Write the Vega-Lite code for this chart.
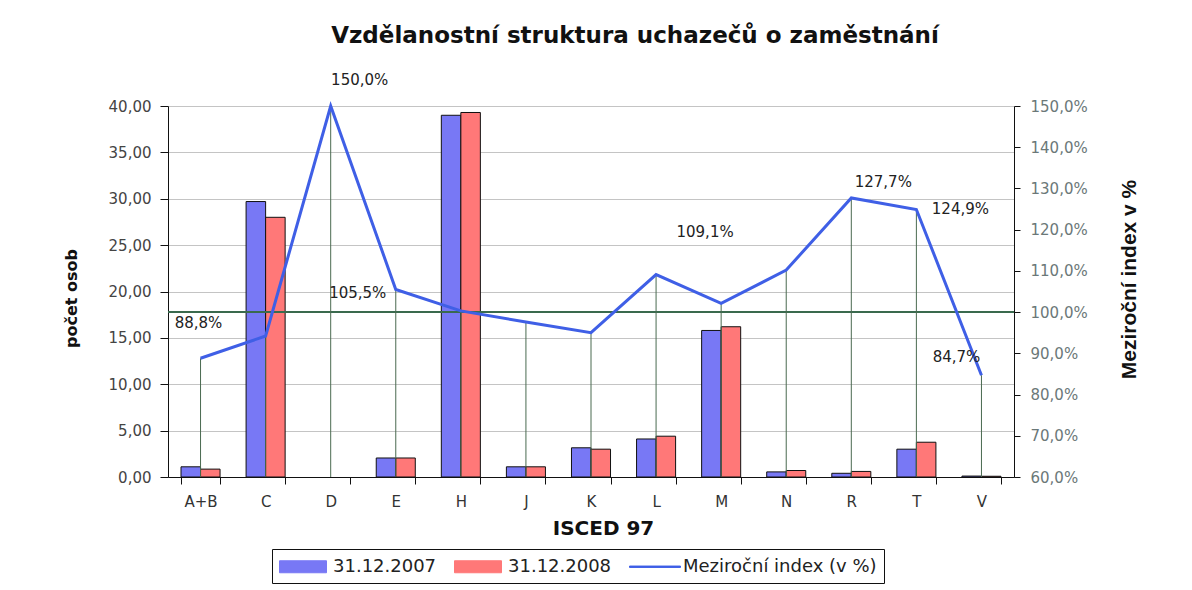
{
  "$schema": "https://vega.github.io/schema/vega-lite/v6.json",
  "width": 846,
  "height": 371,
  "autosize": {"type": "none"},
  "padding": {"left": 168, "top": 106, "right": 178, "bottom": 113},
  "background": "white",
  "title": {
    "text": "Vzdělanostní struktura uchazečů o zaměstnání",
    "font": "DejaVu Sans",
    "fontSize": 23,
    "fontWeight": "bold",
    "color": "#111111",
    "anchor": "middle",
    "frame": "group",
    "dx": 44,
    "offset": 25
  },
  "datasets": {
    "bars": [
      {"cat": "A+B", "series": "31.12.2007", "value": 1.1},
      {"cat": "A+B", "series": "31.12.2008", "value": 0.85},
      {"cat": "C", "series": "31.12.2007", "value": 29.7},
      {"cat": "C", "series": "31.12.2008", "value": 28.0},
      {"cat": "E", "series": "31.12.2007", "value": 2.05},
      {"cat": "E", "series": "31.12.2008", "value": 2.05},
      {"cat": "H", "series": "31.12.2007", "value": 39.0},
      {"cat": "H", "series": "31.12.2008", "value": 39.3},
      {"cat": "J", "series": "31.12.2007", "value": 1.1},
      {"cat": "J", "series": "31.12.2008", "value": 1.1},
      {"cat": "K", "series": "31.12.2007", "value": 3.15},
      {"cat": "K", "series": "31.12.2008", "value": 3.0},
      {"cat": "L", "series": "31.12.2007", "value": 4.1},
      {"cat": "L", "series": "31.12.2008", "value": 4.4},
      {"cat": "M", "series": "31.12.2007", "value": 15.8},
      {"cat": "M", "series": "31.12.2008", "value": 16.2},
      {"cat": "N", "series": "31.12.2007", "value": 0.55},
      {"cat": "N", "series": "31.12.2008", "value": 0.7},
      {"cat": "R", "series": "31.12.2007", "value": 0.4},
      {"cat": "R", "series": "31.12.2008", "value": 0.6},
      {"cat": "T", "series": "31.12.2007", "value": 3.0},
      {"cat": "T", "series": "31.12.2008", "value": 3.75},
      {"cat": "V", "series": "31.12.2007", "value": 0.1},
      {"cat": "V", "series": "31.12.2008", "value": 0.08}
    ],
    "idx": [
      {"cat": "A+B", "index": 0.888},
      {"cat": "C", "index": 0.942},
      {"cat": "D", "index": 1.5},
      {"cat": "E", "index": 1.055},
      {"cat": "H", "index": 1.003},
      {"cat": "J", "index": 0.976},
      {"cat": "K", "index": 0.95},
      {"cat": "L", "index": 1.091},
      {"cat": "M", "index": 1.021},
      {"cat": "N", "index": 1.102},
      {"cat": "R", "index": 1.277},
      {"cat": "T", "index": 1.249},
      {"cat": "V", "index": 0.847}
    ],
    "ref": [{"index": 1.0}]
  },
  "layer": [
    {
      "data": {"name": "bars"},
      "mark": {"type": "bar", "stroke": "#111111", "strokeWidth": 1},
      "encoding": {
        "x": {
          "field": "cat", "type": "nominal",
          "sort": ["A+B", "C", "D", "E", "H", "J", "K", "L", "M", "N", "R", "T", "V"],
          "scale": {"domain": ["A+B", "C", "D", "E", "H", "J", "K", "L", "M", "N", "R", "T", "V"], "paddingInner": 0.4, "paddingOuter": 0.2},
          "axis": {"title": "ISCED 97", "titleFont": "DejaVu Sans", "titleFontSize": 20, "titleFontWeight": "bold", "titleColor": "#111111", "labelFont": "DejaVu Sans", "labelFontSize": 15, "labelColor": "#333333", "labelAngle": 0, "labelPadding": 10, "tickBand": "extent", "tickSize": 7, "tickColor": "#111111", "domainColor": "#111111", "titlePadding": 9, "titleX": 435, "grid": false}
        },
        "xOffset": {"field": "series", "type": "nominal", "sort": ["31.12.2007", "31.12.2008"], "scale": {"paddingInner": 0, "paddingOuter": 0}},
        "y": {
          "field": "value", "type": "quantitative",
          "scale": {"domain": [0, 40], "nice": false, "zero": true},
          "axis": {"orient": "left", "title": "počet osob", "titleFont": "DejaVu Sans", "titleFontSize": 16, "titleFontWeight": "bold", "titleColor": "#111111", "titlePadding": 29, "titleY": 192, "values": [0, 5, 10, 15, 20, 25, 30, 35, 40], "format": ".2f", "labelFont": "DejaVu Sans", "labelFontSize": 15, "labelColor": "#444444", "labelPadding": 9, "tickSize": 8, "tickColor": "#111111", "domainColor": "#111111", "grid": true, "gridColor": "#c4c4c4", "gridWidth": 1}
        },
        "color": {
          "field": "series", "type": "nominal",
          "scale": {"domain": ["31.12.2007", "31.12.2008", "Meziroční index (v %)"], "range": ["#7878f5", "#ff7878", "#3f5fe6"]},
          "legend": {"title": null, "orient": "none", "legendX": 104, "legendY": 443, "direction": "horizontal", "strokeColor": "#111111", "fillColor": "white", "padding": 7, "columnPadding": 15, "labelFont": "DejaVu Sans", "labelFontSize": 18, "labelColor": "#222222", "labelLimit": 400, "labelOffset": 33, "symbolSize": 400, "symbolOpacity": 1, "symbolStrokeWidth": 1}
        }
      }
    },
    {
      "data": {"name": "bars"},
      "transform": [{"filter": "false"}],
      "mark": {"type": "point", "filled": true},
      "encoding": {
        "color": {
          "field": "series", "type": "nominal",
          "legend": {"title": null, "orient": "none", "legendX": 104, "legendY": 443, "direction": "horizontal", "strokeColor": "#111111", "fillColor": "white", "padding": 7, "columnPadding": 15, "labelFont": "DejaVu Sans", "labelFontSize": 18, "labelColor": "#222222", "labelLimit": 400, "labelOffset": 33, "symbolSize": 400, "symbolOpacity": 1, "symbolStrokeWidth": 1}
        },
        "stroke": {
          "field": "series", "type": "nominal",
          "scale": {"domain": ["31.12.2007", "31.12.2008", "Meziroční index (v %)"], "range": ["#111111", "#111111", "#3f5fe6"]},
          "legend": {"title": null, "orient": "none", "legendX": 104, "legendY": 443, "direction": "horizontal", "strokeColor": "#111111", "fillColor": "white", "padding": 7, "columnPadding": 15, "labelFont": "DejaVu Sans", "labelFontSize": 18, "labelColor": "#222222", "labelLimit": 400, "labelOffset": 33, "symbolSize": 400, "symbolOpacity": 1, "symbolStrokeWidth": 1}
        },
        "shape": {
          "field": "series", "type": "nominal",
          "scale": {"domain": ["31.12.2007", "31.12.2008", "Meziroční index (v %)"], "range": ["M-1,-0.6H3.7V0.6H-1Z", "M-1,-0.6H3.7V0.6H-1Z", "M-1,-0.07H4.1V0.07H-1Z"]},
          "legend": {"title": null, "orient": "none", "legendX": 104, "legendY": 443, "direction": "horizontal", "strokeColor": "#111111", "fillColor": "white", "padding": 7, "columnPadding": 15, "labelFont": "DejaVu Sans", "labelFontSize": 18, "labelColor": "#222222", "labelLimit": 400, "labelOffset": 33, "symbolSize": 400, "symbolOpacity": 1, "symbolStrokeWidth": 1}
        }
      }
    },
    {
      "data": {"name": "ref"},
      "mark": {"type": "rule", "color": "#3a6a4e", "strokeWidth": 2},
      "encoding": {
        "y": {"field": "index", "type": "quantitative", "scale": {"domain": [0.6, 1.5], "nice": false, "zero": false}, "axis": null}
      }
    },
    {
      "data": {"name": "idx"},
      "encoding": {
        "x": {
          "field": "cat", "type": "nominal",
          "sort": ["A+B", "C", "D", "E", "H", "J", "K", "L", "M", "N", "R", "T", "V"],
          "axis": {"title": "ISCED 97", "titleFont": "DejaVu Sans", "titleFontSize": 20, "titleFontWeight": "bold", "titleColor": "#111111", "labelFont": "DejaVu Sans", "labelFontSize": 15, "labelColor": "#333333", "labelAngle": 0, "labelPadding": 10, "tickBand": "extent", "tickSize": 7, "tickColor": "#111111", "domainColor": "#111111", "titlePadding": 9, "titleX": 435, "grid": false}
        },
        "y": {
          "field": "index", "type": "quantitative",
          "scale": {"domain": [0.6, 1.5], "nice": false, "zero": false},
          "axis": {"orient": "right", "title": "Meziroční index v %", "titleAngle": 270, "titleFont": "Liberation Sans", "titleFontSize": 21, "titleFontWeight": "bold", "titleColor": "#111111", "titlePadding": 52, "titleY": 173, "values": [0.6, 0.7, 0.8, 0.9, 1.0, 1.1, 1.2, 1.3, 1.4, 1.5], "format": ".1%", "labelFont": "DejaVu Sans", "labelFontSize": 15, "labelColor": "#6b7878", "labelPadding": 10, "tickSize": 6, "tickColor": "#111111", "domainColor": "#111111", "grid": false}
        }
      },
      "layer": [
        {
          "mark": {"type": "rule", "color": "#4a6a50", "strokeWidth": 1},
          "encoding": {"y2": {"datum": 0.6}}
        },
        {
          "mark": {"type": "line", "strokeWidth": 3},
          "encoding": {"color": {"datum": "Meziroční index (v %)", "legend": null}}
        },
        {
          "transform": [{"filter": "datum.cat == 'A+B'"}],
          "mark": {"type": "text", "font": "DejaVu Sans", "fontSize": 15, "color": "#222222", "dx": -2, "dy": -35},
          "encoding": {"text": {"field": "index", "format": ".1%"}}
        },
        {
          "transform": [{"filter": "datum.cat == 'D'"}],
          "mark": {"type": "text", "font": "DejaVu Sans", "fontSize": 15, "color": "#222222", "dx": 29, "dy": -26},
          "encoding": {"text": {"field": "index", "format": ".1%"}}
        },
        {
          "transform": [{"filter": "datum.cat == 'E'"}],
          "mark": {"type": "text", "font": "DejaVu Sans", "fontSize": 15, "color": "#222222", "dx": -38, "dy": 4},
          "encoding": {"text": {"field": "index", "format": ".1%"}}
        },
        {
          "transform": [{"filter": "datum.cat == 'L'"}],
          "mark": {"type": "text", "font": "DejaVu Sans", "fontSize": 15, "color": "#222222", "dx": 49, "dy": -43},
          "encoding": {"text": {"field": "index", "format": ".1%"}}
        },
        {
          "transform": [{"filter": "datum.cat == 'R'"}],
          "mark": {"type": "text", "font": "DejaVu Sans", "fontSize": 15, "color": "#222222", "dx": 32, "dy": -16},
          "encoding": {"text": {"field": "index", "format": ".1%"}}
        },
        {
          "transform": [{"filter": "datum.cat == 'T'"}],
          "mark": {"type": "text", "font": "DejaVu Sans", "fontSize": 15, "color": "#222222", "dx": 44, "dy": 0},
          "encoding": {"text": {"field": "index", "format": ".1%"}}
        },
        {
          "transform": [{"filter": "datum.cat == 'V'"}],
          "mark": {"type": "text", "font": "DejaVu Sans", "fontSize": 15, "color": "#222222", "dx": -25, "dy": -18},
          "encoding": {"text": {"field": "index", "format": ".1%"}}
        }
      ]
    }
  ],
  "resolve": {"scale": {"y": "independent"}},
  "config": {
    "locale": {"number": {"decimal": ",", "thousands": " ", "grouping": [3], "currency": ["", " Kč"]}},
    "view": {
      "stroke": null,
      "fill": {"gradient": "linear", "x1": 0, "y1": 0, "x2": 0, "y2": 1, "stops": [{"offset": 0, "color": "#ffffff"}, {"offset": 1, "color": "#ffffc0"}]}
    }
  }
}
